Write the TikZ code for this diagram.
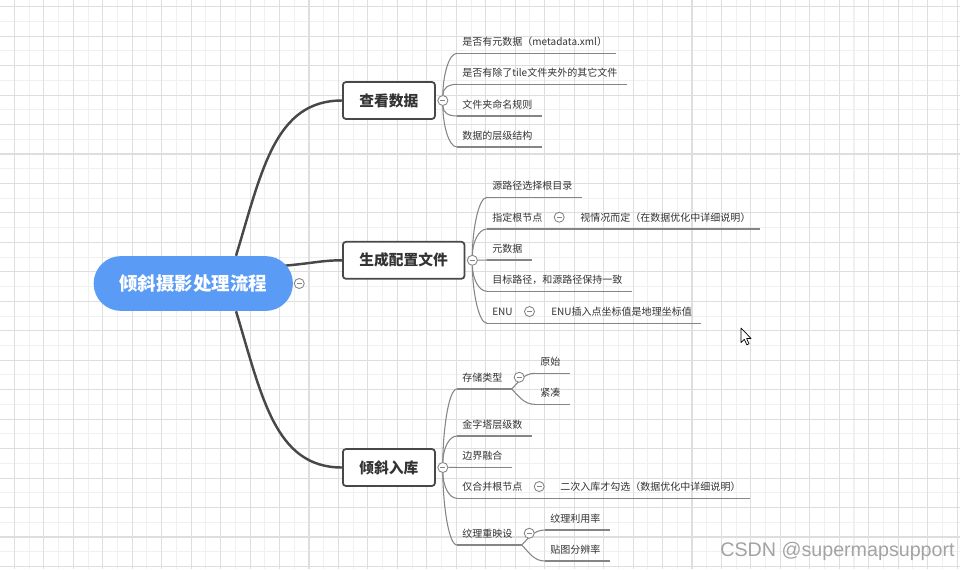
\documentclass[tikz,border=0pt]{standalone}
\usepackage{fontspec}
\setmainfont{Noto Sans CJK SC}
\newfontfamily\markfont{Liberation Sans}
\usetikzlibrary{positioning, backgrounds}

\definecolor{rootblue}{HTML}{5A9BF6}
\definecolor{linegray}{HTML}{484848}
\definecolor{leafgray}{HTML}{858585}
\definecolor{txtgray}{HTML}{333333}
\definecolor{markgray}{HTML}{A3A3A3}
\definecolor{gridminor}{HTML}{F0F0F0}
\definecolor{gridmajor}{HTML}{DEDEDE}

\newcommand{\leaffont}{\fontsize{5.7pt}{7pt}\selectfont}
\newcommand{\boxfont}{\fontsize{8.4pt}{10pt}\selectfont\bfseries}
\newcommand{\rootfont}{\fontsize{10.5pt}{12pt}\selectfont\bfseries}

\begin{document}
\begin{tikzpicture}[x=0.02cm, y=-0.02cm,
	root/.style={fill=rootblue, text=white, font=\rootfont, rounded corners=15.5pt,
		minimum width=113.4pt, minimum height=31.2pt, inner sep=0pt},
	topic/.style={draw=linegray, line width=1pt, fill=white, rounded corners=1.7pt,
		font=\boxfont, text=txtgray, inner xsep=9.4pt, minimum height=21pt, anchor=west},
	uline/.style={draw=leafgray, line width=0.6pt},
	leaf/.style={font=\leaffont, text=txtgray, inner xsep=2.8pt, inner ysep=0pt,
		minimum height=13pt, anchor=south west, execute at end node=\hspace{2.3pt},
		append after command={(\tikzlastnode.south west) edge[uline] (\tikzlastnode.south east)}},
	fold/.style={circle, draw=leafgray, fill=white, line width=0.5pt, minimum size=5.7pt, inner sep=0pt,
		path picture={\draw[leafgray, line width=0.5pt] ([xshift=-1.5pt]path picture bounding box.center)
			-- ([xshift=1.5pt]path picture bounding box.center);}},
	branch/.style={draw=linegray, line width=1.4pt},
	twig/.style={draw=leafgray, line width=0.6pt},
	twigup/.style={twig, out=90, in=180, in distance=5pt},
	twigdown/.style={twig, out=-90, in=180, in distance=5pt},
	]
	\useasboundingbox (0,0) rectangle (960,569);
	
	%% ── background grid ─────────────────────────────────────────────
	\begin{scope}[on background layer]
		\fill[white] (0,0) rectangle (960,569);
		\foreach \k in {1,3,...,63}
			\draw[gridminor, line width=0.6pt] (14.4+14.73*\k,0) -- (14.4+14.73*\k,569);
		\foreach \k in {1,3,...,37}
			\draw[gridminor, line width=0.6pt] (0,6.7+14.73*\k) -- (960,6.7+14.73*\k);
		\foreach \k in {0,2,...,64}
			\draw[gridmajor, line width=0.6pt] (14.4+14.73*\k,0) -- (14.4+14.73*\k,569);
		\foreach \k in {0,2,...,38}
			\draw[gridmajor, line width=0.6pt] (0,6.7+14.73*\k) -- (960,6.7+14.73*\k);
	\end{scope}
	
	%% ── root and main topics ────────────────────────────────────────
	\node[root] (root) at (193.3,283.5) {倾斜摄影处理流程};
	\node[topic] (look) at (342,100.5) {查看数据};
	\node[topic] (conf) at (342,260.3) {生成配置文件};
	\node[topic] (load) at (342,467.5) {倾斜入库};
	
	\node[fold] (c0) at ([xshift=3.4pt]root.east) {};
	\node[fold] (c1) at ([xshift=4pt]look.east) {};
	\node[fold] (c2) at ([xshift=4pt]conf.east) {};
	\node[fold] (c3) at ([xshift=4pt]load.east) {};
	
	%% ── 查看数据 ───────────────────────────────────────────────────
	\node[leaf] (v1) at (457,53.3) {是否有元数据（metadata.xml）};
	\node[leaf] (v2) at (457,84.3) {是否有除了tile文件夹外的其它文件};
	\node[leaf] (v3) at (457,116)  {文件夹命名规则};
	\node[leaf] (v4) at (457,147)  {数据的层级结构};
	
	%% ── 生成配置文件 ───────────────────────────────────────────────
	\node[leaf] (g1) at (487,197.3) {源路径选择根目录};
	\node[leaf] (g2) at (487,229)   {指定根节点};
	\node[fold] (cg2) at ([xshift=4.3pt]g2.east) {};
	\node[leaf] (g21) at (575,229)  {视情况而定（在数据优化中详细说明）};
	\node[leaf] (g3) at (487,260)   {元数据};
	\node[leaf] (g4) at (487,291.3) {目标路径，和源路径保持一致};
	\node[leaf] (g5) at (487,323.3) {ENU};
	\node[fold] (cg5) at ([xshift=4.3pt]g5.east) {};
	\node[leaf] (g51) at (546,323.3) {ENU插入点坐标值是地理坐标值};
	
	%% ── 倾斜入库 ───────────────────────────────────────────────────
	\node[leaf] (r1) at (457,389)   {存储类型};
	\node[fold] (cr1) at ([xshift=4.3pt]r1.east) {};
	\node[leaf] (r11) at (535,373.3) {原始};
	\node[leaf] (r12) at (535,404.3) {紧凑};
	\node[leaf] (r2) at (457,436)   {金字塔层级数};
	\node[leaf] (r3) at (457,467.3) {边界融合};
	\node[leaf] (r4) at (457,498.3) {仅合并根节点};
	\node[fold] (cr4) at ([xshift=4.3pt]r4.east) {};
	\node[leaf] (r41) at (555,498.3) {二次入库才勾选（数据优化中详细说明）};
	\node[leaf] (r5) at (457,545)   {纹理重映设};
	\node[fold] (cr5) at ([xshift=4.3pt]r5.east) {};
	\node[leaf] (r51) at (545,530)  {纹理利用率};
	\node[leaf] (r52) at (545,561)  {贴图分辨率};
	
	%% ── connectors ──────────────────────────────────────────────────
	\begin{scope}[on background layer]
		\draw[branch] (root.33) .. controls (262,170) and (275,100.5) .. (look.west);
		\draw[branch] ([xshift=-6pt]root.10) .. controls (315,263) and (322,260.3) .. (conf.west);
		\draw[branch] (root.-33) .. controls (262,397) and (275,467.5) .. (load.west);
		
		\draw[twigup]   (c1) to (v1.south west);
		\draw[twigup]   (c1) to (v2.south west);
		\draw[twigdown] (c1) to (v3.south west);
		\draw[twigdown] (c1) to (v4.south west);
		
		\draw[twigup]   (c2) to (g1.south west);
		\draw[twigup]   (c2) to (g2.south west);
		\draw[twig]     (c2) -- (g3.south west);
		\draw[twigdown] (c2) to (g4.south west);
		\draw[twigdown] (c2) to (g5.south west);
		\draw[twig] (g2.south east) -- (g21.south west);
		\draw[twig] (g5.south east) -- (g51.south west);
		
		\draw[twigup]   (c3) to (r1.south west);
		\draw[twigup]   (c3) to (r2.south west);
		\draw[twig]     (c3) -- (r3.south west);
		\draw[twigdown] (c3) to (r4.south west);
		\draw[twigdown] (c3) to (r5.south west);
		\draw[twig] (r1.south east) to[out=45, in=180] (r11.south west);
		\draw[twig] (r1.south east) to[out=-45, in=180] (r12.south west);
		\draw[twig] (r4.south east) -- (r41.south west);
		\draw[twig] (r5.south east) to[out=45, in=180] (r51.south west);
		\draw[twig] (r5.south east) to[out=-45, in=180] (r52.south west);
	\end{scope}
	
	%% ── pointer and watermark ───────────────────────────────────────
	\draw[fill=white, line width=0.4pt, line join=round] (741,328) -- (741,342.5) -- (744.3,339.3)
		-- (746.8,344.8) -- (749,343.8) -- (746.6,338.4) -- (751,338.4) -- cycle;
	\node[font=\markfont\fontsize{11.2pt}{13pt}\selectfont, text=markgray, anchor=base west, inner sep=0pt]
		(mark) at (720,556) {CSDN @supermapsupport};
	
\end{tikzpicture}
\end{document}
